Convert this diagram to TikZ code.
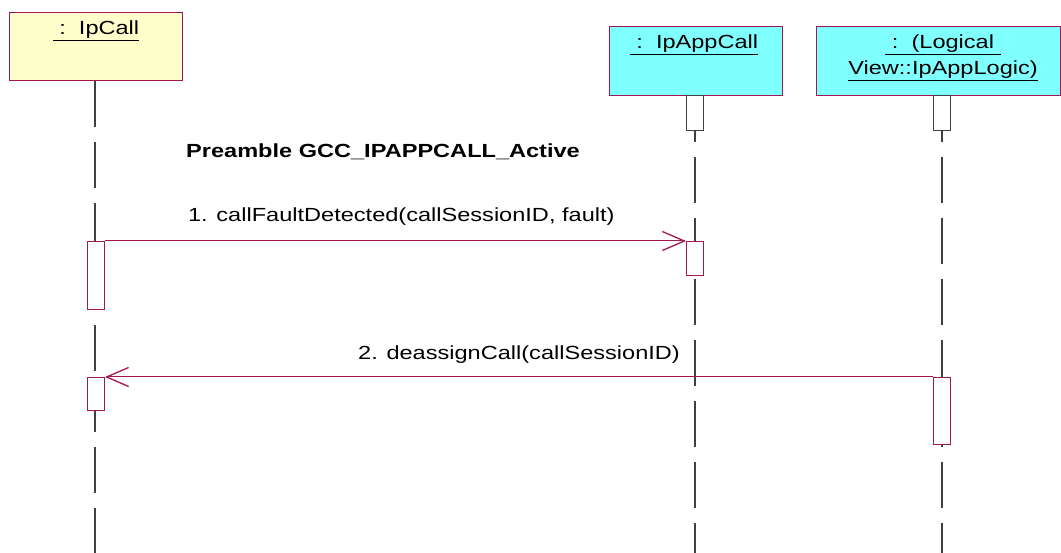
\documentclass[tikz,border=0pt]{standalone}
\usepackage{fontspec}
\setmainfont{Liberation Sans}[FakeStretch=1.24]
\usetikzlibrary{arrows.meta}
\definecolor{rose}{HTML}{A3164F}
\definecolor{lifegray}{HTML}{404040}
\definecolor{objyellow}{HTML}{FFFFCC}
\definecolor{objcyan}{HTML}{80FFFF}
\begin{document}
\begin{tikzpicture}[x=1pt,y=-1pt,
  font=\fontsize{19}{28}\selectfont,
  objbox/.style={draw=rose,line width=1pt,rectangle,inner sep=0pt,anchor=north west},
  objtext/.style={anchor=north,align=center,inner sep=0pt},
  lifeline/.style={draw=lifegray,line width=1.2pt,dash pattern=on 46pt off 15pt},
  actbox/.style={draw=rose,fill=white,line width=1pt,rectangle,inner sep=0pt,minimum width=17pt,anchor=north},
  actgray/.style={actbox,draw=lifegray},
  msg/.style={draw=rose,line width=1pt,-{Straight Barb[length=22pt,width=19pt,line width=1.3pt]}},
  msgtext/.style={anchor=center,inner sep=0pt}]
\useasboundingbox (0,0) rectangle (1061,553);
% objects
\node[objbox,fill=objyellow,minimum width=173pt,minimum height=68pt] (ipcall) at (9,12) {};
\node[objtext] (ipcallT) at (96,21) {\underline{\ :\ \ IpCall}};
\node[objbox,fill=objcyan,minimum width=173pt,minimum height=69pt] (ipapp) at (609,26) {};
\node[objtext] (ipappT) at (694,35) {\underline{\ :\ \ IpAppCall}};
\node[objbox,fill=objcyan,minimum width=244pt,minimum height=69pt] (logic) at (816,26) {};
\node[objtext] (logicT) at (943,35) {\underline{\ :\ \ (Logical\ }\\[-2pt]\underline{View::IpAppLogic)}};
% lifelines
\coordinate (e1) at (95,553);
\coordinate (e2) at (695,553);
\coordinate (e3) at (942,553);
\draw[lifeline] (ipcall.south -| e1) -- (e1);
\draw[lifeline] (ipapp.south -| e2) -- (e2);
\draw[lifeline] (logic.south -| e3) -- (e3);
% activations
\node[actgray,minimum height=35pt] (a2top) at (695,95) {};
\node[actgray,minimum height=35pt] (a3top) at (942,95) {};
\node[actbox,minimum height=68pt] (a1) at (96,241) {};
\node[actbox,minimum height=34pt] (a2) at (695,241) {};
\node[actbox,minimum height=33pt] (a1b) at (96,377) {};
\node[actbox,minimum height=67pt] (a3) at (942,377) {};
% text
\node[anchor=west,inner sep=0pt,font=\fontsize{19}{22}\selectfont\bfseries] (pre) at (186,152) {Preamble GCC\_IPAPPCALL\_Active};
% messages
\draw[msg] (a1.north east) -- (a2.north west) node[pos=0.51,above=24pt,msgtext] (m1) {1. callFaultDetected(callSessionID, fault)};
\draw[msg] (a3.north west) -- (a1b.north east) node[pos=0.5,above=22pt,msgtext] (m2) {2. deassignCall(callSessionID)};
\end{tikzpicture}
\end{document}
